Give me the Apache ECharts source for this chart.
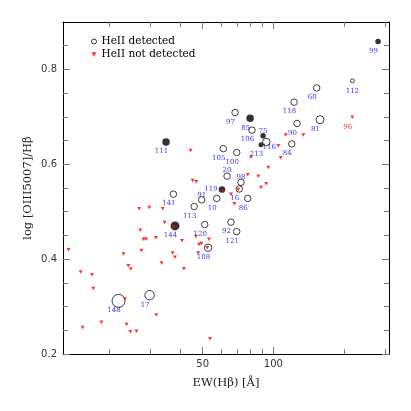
<!DOCTYPE html>
<html>
<head>
<meta charset="utf-8">
<script src="https://cdn.jsdelivr.net/npm/echarts@6.0.0/dist/echarts.min.js"></script>
<style>
  html, body { margin: 0; padding: 0; background: #fff; }
  #chart { width: 411px; height: 411px; }
</style>
</head>
<body>
<div id="chart"></div>
<script>
// HeII detected, open circles
const detId = ['148', '17', '141', '113', '91', '120', '108', '10', '20', '98', '16', '86', '92',
  '121', '105', '100', '97', '106', '116', '118', '90', '84', '60', '81', '112'];
const detEW = [21.9, 29.7, 37.5, 46.0, 49.5, 51.0, 52.7, 57.4, 63.5, 72.8, 71.6, 77.8, 66.0,
  69.8, 61.2, 69.8, 68.7, 81.1, 93.3, 122.5, 126.2, 119.8, 153, 158.1, 217.1];
const detRatio = [0.312, 0.324, 0.537, 0.511, 0.525, 0.473, 0.424, 0.528, 0.575, 0.562, 0.548, 0.528, 0.478,
  0.458, 0.633, 0.625, 0.709, 0.672, 0.647, 0.731, 0.686, 0.643, 0.761, 0.694, 0.776];

// filled circles
const fillId = ['111', '144', '119', '85', '75', '213', '99'];
const fillEW = [34.9, 38.1, 60.4, 79.6, 90.4, 88.6, 279.4];
const fillRatio = [0.647, 0.470, 0.547, 0.697, 0.660, 0.641, 0.859];

// HeII not detected, red triangles
const ndId = ['96'];
const ndEW = [217, 44.4, 112.9, 134.2, 105.0, 107.5, 80.3, 95.2, 45.3, 47.0, 77.8, 86.3, 93.3, 88.6,
  66.0, 68.2, 33.8, 34.4, 31.6, 40.8, 46.8, 53.2, 48.2, 49.3, 37.2, 38.1, 33.4, 41.6, 61.4, 70.9,
  37.5, 52.3, 26.8, 29.6, 27.1, 28.0, 28.7, 27.4, 23.0, 24.1, 24.7, 47.8, 13.4, 15.1, 16.9, 17.1,
  15.4, 18.5, 23.3, 23.7, 24.6, 26.1, 31.7, 53.7];
const ndRatio = [0.699, 0.629, 0.662, 0.662, 0.639, 0.614, 0.615, 0.593, 0.566, 0.563, 0.578, 0.575, 0.559, 0.551,
  0.537, 0.517, 0.506, 0.477, 0.445, 0.439, 0.448, 0.442, 0.431, 0.433, 0.413, 0.404, 0.392, 0.380, 0.543, 0.547,
  0.467, 0.424, 0.506, 0.509, 0.461, 0.442, 0.442, 0.418, 0.411, 0.386, 0.379, 0.413, 0.420, 0.373, 0.367, 0.338,
  0.256, 0.267, 0.316, 0.262, 0.247, 0.248, 0.282, 0.232];

// axis ticks
const xMajor = [50, 100];
const xMinor = [20, 30, 40, 60, 70, 80, 90, 200, 300];
const yMajor = [0.2, 0.4, 0.6, 0.8];
const yMinor = [0.25, 0.3, 0.35, 0.45, 0.5, 0.55, 0.65, 0.7, 0.75, 0.85];

// marker sizes / label placement (style only)
const sizeOf = {'148': 13, '17': 9.5, '112': 4, '81': 8, '116': 7.5, '108': 7.5,
  '111': 7.5, '144': 9, '119': 6.5, '85': 7.5, '75': 5.5, '213': 5, '99': 5.5};
const labelOffset = {'20': [0, -6], '98': [0, -5], '91': [0, -5], '75': [0, -5],
  '119': [-11, 0], '116': [3, 5], '112': [0, 10]};

let myChart = echarts.init(document.getElementById('chart'));

function points(ids, ew, ratio, color) {
  return ew.map(function (v, i) {
    const id = ids[i] || '';
    return {
      name: id,
      value: [v, ratio[i]],
      label: {
        show: id !== '',
        offset: labelOffset[id] || [-4.5, 9.5],
        color: color
      }
    };
  });
}

function xAx(pos, ticks, len, main) {
  return {
    type: 'log', logBase: 10, position: pos, min: 12.7, max: 311,
    axisLine: {show: main, onZero: false, lineStyle: {color: '#000', width: 1}},
    axisTick: {show: true, inside: true, length: len, customValues: ticks, lineStyle: {color: '#777'}},
    axisLabel: {show: main && pos === 'bottom', customValues: xMajor, margin: 5,
      fontFamily: 'DejaVu Sans', fontSize: 10, color: '#333',
      formatter: function (v) { return String(Math.round(v)); }},
    splitLine: {show: false}
  };
}

function yAx(pos, ticks, len, main) {
  return {
    type: 'value', position: pos, min: 0.2, max: 0.9,
    axisLine: {show: main, onZero: false, lineStyle: {color: '#000', width: 1}},
    axisTick: {show: true, inside: true, length: len, customValues: ticks, lineStyle: {color: '#777'}},
    axisLabel: {show: main && pos === 'left', customValues: yMajor, margin: 6,
      fontFamily: 'DejaVu Sans', fontSize: 10, color: '#333',
      formatter: function (v) { return v.toFixed(1); }},
    splitLine: {show: false}
  };
}

const xAxes = [xAx('bottom', xMajor, 7, true), xAx('bottom', xMinor, 5, false),
  xAx('top', xMajor, 7, true), xAx('top', xMinor, 5, false)];
xAxes[0].name = 'EW(H\u03B2) [\u00C5]';
xAxes[0].nameLocation = 'middle';
xAxes[0].nameGap = 23;
xAxes[0].nameMoveOverlap = false;
xAxes[0].nameTextStyle = {fontFamily: 'DejaVu Serif', fontSize: 11.5, color: '#222'};

const yAxes = [yAx('left', yMajor, 7, true), yAx('left', yMinor, 5, false),
  yAx('right', yMajor, 7, true), yAx('right', yMinor, 5, false)];
yAxes[0].name = 'log [OIII5007]/H\u03B2';
yAxes[0].nameLocation = 'middle';
yAxes[0].nameGap = 29;
yAxes[0].nameMoveOverlap = false;
yAxes[0].nameRotate = 90;
yAxes[0].nameTextStyle = {fontFamily: 'DejaVu Serif', fontSize: 11.5, color: '#222'};

const labelBase = {
  position: 'inside', align: 'center', verticalAlign: 'middle',
  formatter: function (p) { return p.name; },
  fontFamily: 'DejaVu Serif', fontSize: 7, color: '#0000ff'
};

myChart.setOption({
  animation: false,
  backgroundColor: '#fff',
  grid: {left: 63, right: 22, top: 22, bottom: 57, containLabel: false},
  legend: {
    left: 86, top: 31, orient: 'vertical',
    itemWidth: 5, itemHeight: 5, itemGap: 2,
    textStyle: {fontFamily: 'DejaVu Serif', fontSize: 10.5, color: '#000'},
    data: [
      {name: 'HeII detected', icon: 'circle',
        itemStyle: {color: '#fff', borderColor: '#000', borderWidth: 1}},
      {name: 'HeII not detected', icon: 'path://M0,0L10,0L5,9Z',
        itemStyle: {color: '#ff0000'}}
    ]
  },
  xAxis: xAxes,
  yAxis: yAxes,
  series: [
    {
      name: 'HeII detected', type: 'scatter', xAxisIndex: 0, yAxisIndex: 0,
      symbol: 'circle',
      symbolSize: function (v, p) { return sizeOf[p.name] || 6.5; },
      itemStyle: {color: 'rgba(0,0,0,0)', borderColor: '#111', borderWidth: 1},
      label: labelBase,
      z: 2,
      data: points(detId, detEW, detRatio, '#0000ff')
    },
    {
      name: 'filled', type: 'scatter', xAxisIndex: 0, yAxisIndex: 0,
      symbol: 'circle',
      symbolSize: function (v, p) { return sizeOf[p.name] || 6.5; },
      itemStyle: {color: '#000'},
      label: labelBase,
      z: 3,
      data: points(fillId, fillEW, fillRatio, '#0000ff')
    },
    {
      name: 'HeII not detected', type: 'scatter', xAxisIndex: 0, yAxisIndex: 0,
      symbol: 'triangle', symbolRotate: 180, symbolSize: [4, 3.5],
      itemStyle: {color: '#ff0000'},
      label: labelBase,
      z: 4,
      data: points(ndId, ndEW, ndRatio, '#ff0000')
    }
  ]
});
</script>
</body>
</html>
